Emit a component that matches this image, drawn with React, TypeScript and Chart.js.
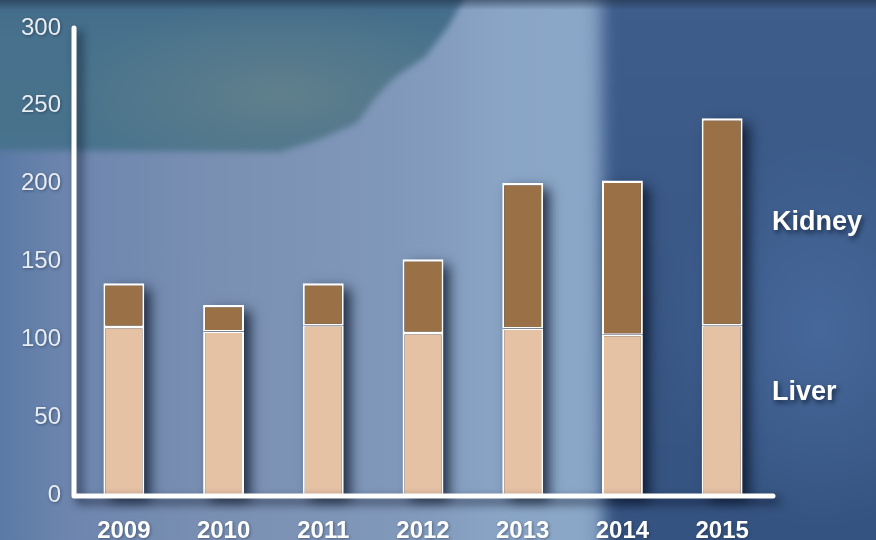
import React, { useEffect, useRef } from "react";
import { Chart, registerables } from "chart.js";

Chart.register(...registerables);

const categories = ["2009", "2010", "2011", "2012", "2013", "2014", "2015"];
const liver = [108, 105, 109, 104, 107, 103, 109];
const kidney = [28, 17, 27, 47.5, 93.5, 99, 133];
const yTicks = [0, 50, 100, 150, 200, 250, 300];
const seriesNames = ["Liver", "Kidney"];

const FONT = "'Liberation Sans', Arial, Helvetica, sans-serif";

const decorPlugin = {
  id: "decor",
  beforeDraw(chart: any) {
    const ctx = chart.ctx;
    ctx.save();
    ctx.shadowColor = "rgba(20,30,50,0.45)";
    ctx.shadowBlur = 3;
    ctx.shadowOffsetX = 1;
    ctx.shadowOffsetY = 1;
  },
  beforeDatasetsDraw(chart: any) {
    const ctx = chart.ctx;
    ctx.restore();
    // bar shadows
    const top = chart.getDatasetMeta(1);
    const yScale = chart.scales.y;
    const base = yScale.getPixelForValue(0);
    ctx.save();
    ctx.shadowColor = "rgba(8,16,34,0.8)";
    ctx.shadowBlur = 12;
    ctx.shadowOffsetX = 7;
    ctx.shadowOffsetY = 5;
    ctx.fillStyle = "rgba(30,40,60,1)";
    top.data.forEach((el: any) => {
      const w = el.width - 2;
      ctx.fillRect(el.x - w / 2, el.y + 1, w, base - el.y - 1);
    });
    ctx.restore();
  },
  afterDatasetsDraw(chart: any) {
    const ctx = chart.ctx;
    const a = chart.chartArea;
    ctx.save();
    ctx.shadowColor = "rgba(8,16,34,0.75)";
    ctx.shadowBlur = 10;
    ctx.shadowOffsetX = 5;
    ctx.shadowOffsetY = 5;
    ctx.strokeStyle = "#ffffff";
    ctx.lineWidth = 5;
    ctx.lineCap = "round";
    ctx.lineJoin = "round";
    ctx.beginPath();
    ctx.moveTo(a.left, a.top);
    ctx.lineTo(a.left, a.bottom + 1);
    ctx.lineTo(a.right + 1, a.bottom + 1);
    ctx.stroke();
    ctx.restore();

    // series labels
    ctx.save();
    ctx.font = `bold 27px ${FONT}`;
    ctx.fillStyle = "#ffffff";
    ctx.textAlign = "left";
    ctx.textBaseline = "middle";
    ctx.shadowColor = "rgba(10,20,40,0.7)";
    ctx.shadowBlur = 5;
    ctx.shadowOffsetX = 2;
    ctx.shadowOffsetY = 3;
    ctx.fillText(seriesNames[1], a.right, 223);
    ctx.fillText(seriesNames[0], a.right, 393);
    ctx.restore();
  },
};

export default function App() {
  const ref = useRef<HTMLCanvasElement | null>(null);

  useEffect(() => {
    document.body.style.margin = "0";
    if (!ref.current) return;
    const chart = new Chart(ref.current, {
      type: "bar",
      data: {
        labels: categories,
        datasets: [
          {
            label: seriesNames[0],
            data: liver,
            backgroundColor: "#e6c2a5",
            borderColor: "#ffffff",
            borderWidth: { top: 1.5, left: 2, right: 2, bottom: 0 },
            borderSkipped: false,
            barPercentage: 0.41,
            categoryPercentage: 1,
          },
          {
            label: seriesNames[1],
            data: kidney,
            backgroundColor: "#9a7146",
            borderColor: "#ffffff",
            borderWidth: { top: 2.5, left: 2, right: 2, bottom: 1.5 },
            borderSkipped: false,
            barPercentage: 0.41,
            categoryPercentage: 1,
          },
        ],
      },
      options: {
        animation: false,
        responsive: true,
        maintainAspectRatio: false,
        layout: { padding: { top: 28, right: 104, left: 0, bottom: 0 } },
        plugins: {
          legend: { display: false },
          tooltip: { enabled: false },
          title: { display: false },
        },
        scales: {
          x: {
            stacked: true,
            grid: { display: false, drawTicks: false },
            border: { display: false },
            ticks: {
              color: "#ffffff",
              font: { family: FONT, size: 24, weight: "bold" },
              padding: 22,
              maxRotation: 0,
            },
            afterFit(scale: any) {
              scale.height = 45;
            },
          },
          y: {
            stacked: true,
            min: 0,
            max: 300,
            afterBuildTicks(scale: any) {
              scale.ticks = yTicks.map((v) => ({ value: v }));
            },
            grid: { display: false, drawTicks: false },
            border: { display: false },
            ticks: {
              color: "#e8edf3",
              font: { family: FONT, size: 24 },
              padding: 13,
            },
            afterFit(scale: any) {
              scale.width = 74;
            },
          },
        },
      },
      plugins: [decorPlugin],
    });
    return () => chart.destroy();
  }, []);

  return (
    <div
      style={{
        position: "absolute",
        left: 0,
        top: 0,
        width: 876,
        height: 540,
        overflow: "hidden",
        background:
          "linear-gradient(90deg, #5a7aa6 0%, #6e86ae 8%, #7a90b3 25%, #8098ba 45%, #8aa5c6 58%, #8ba7c7 66%, #7f9bc0 70%)",
      }}
    >
      {/* soft dark right region */}
      <div style={{ position: "absolute", inset: 0, filter: "blur(8px)" }}>
        <div
          style={{
            position: "absolute",
            left: -20,
            top: -20,
            width: 916,
            height: 580,
            clipPath: "polygon(622px 0, 916px 0, 916px 580px, 624px 580px)",
            background:
              "radial-gradient(ellipse 160px 200px at 840px 350px, #46689a, rgba(70,104,154,0) 100%), linear-gradient(180deg, #3e5d8b 0%, #3a5987 40%, #34527f 100%)",
          }}
        />
      </div>
      {/* teal top-left petal region */}
      <div style={{ position: "absolute", inset: 0, filter: "blur(3px)" }}>
        <div
          style={{
            position: "absolute",
            left: -20,
            top: -20,
            width: 916,
            height: 580,
            clipPath:
              "polygon(0 0, 495px 0, 468px 47px, 445px 77px, 415px 97px, 396px 117px, 377px 143px, 338px 160px, 300px 172px, 0 170px)",
            background:
              "radial-gradient(ellipse 220px 90px at 300px 115px, rgba(100,130,140,0.85), rgba(80,120,140,0) 100%), linear-gradient(180deg, #42698a 0%, #47718c 10%, #4b758e 55%, #52798f 100%)",
          }}
        />
      </div>
      {/* dark top strip */}
      <div
        style={{
          position: "absolute",
          left: 0,
          top: 0,
          width: 876,
          height: 10,
          background:
            "linear-gradient(180deg, rgba(30,45,65,0.55), rgba(30,45,65,0))",
        }}
      />
      <canvas
        ref={ref}
        width={876}
        height={540}
        style={{ position: "absolute", left: 0, top: 0, width: 876, height: 540 }}
      />
    </div>
  );
}
